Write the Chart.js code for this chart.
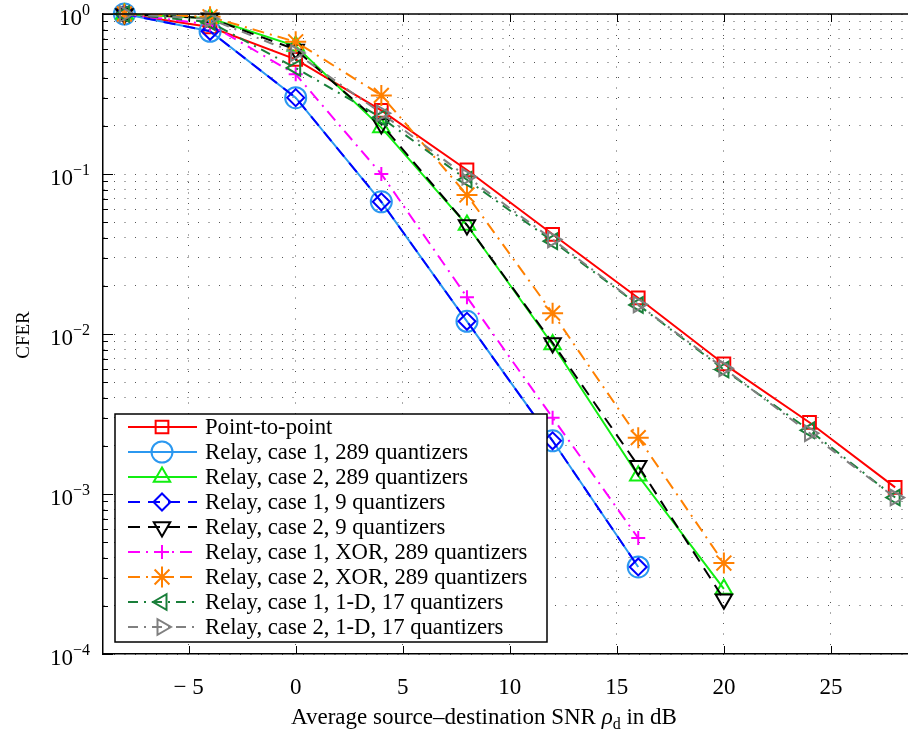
<!DOCTYPE html>
<html>
<head>
<meta charset="utf-8">
<script src="https://cdn.jsdelivr.net/npm/chart.js@4.4.1/dist/chart.umd.min.js"></script>
<style>
  html, body { margin: 0; padding: 0; background: #fff; }
</style>
</head>
<body>
<canvas id="cferChart" width="908" height="736"></canvas>
<script>
// SNR points (dB) and CFER values
const snrDb = [-8, -4, 0, 4, 8, 12, 16, 20, 24, 28];
const cferPointToPoint = [1.0, 0.83, 0.52, 0.25, 0.106, 0.042, 0.0168, 0.0065, 0.0028, 0.0011];
const cferCase1Q289 = [1.0, 0.78, 0.30, 0.067, 0.012, 0.00215, 0.00035];
const cferCase2Q289 = [1.0, 0.94, 0.63, 0.195, 0.048, 0.0086, 0.0013, 0.000255];
const cferCase1Q9 = [1.0, 0.78, 0.30, 0.067, 0.012, 0.00215, 0.00035];
const cferCase2Q9 = [1.0, 0.94, 0.60, 0.205, 0.048, 0.0088, 0.0015, 0.00022];
const cferCase1Xor = [1.0, 0.86, 0.42, 0.10, 0.017, 0.003, 0.00053];
const cferCase2Xor = [1.0, 0.96, 0.67, 0.31, 0.074, 0.0135, 0.00225, 0.00037];
const cferCase1OneD = [1.0, 0.89, 0.46, 0.225, 0.092, 0.038, 0.0152, 0.006, 0.0025, 0.00095];
const cferCase2OneD = [1.0, 0.93, 0.57, 0.24, 0.096, 0.039, 0.0153, 0.0061, 0.0024, 0.00095];

const seriesNames = [
  'Point-to-point',
  'Relay, case 1, 289 quantizers',
  'Relay, case 2, 289 quantizers',
  'Relay, case 1, 9 quantizers',
  'Relay, case 2, 9 quantizers',
  'Relay, case 1, XOR, 289 quantizers',
  'Relay, case 2, XOR, 289 quantizers',
  'Relay, case 1, 1-D, 17 quantizers',
  'Relay, case 2, 1-D, 17 quantizers'
];

const xTickValues = [-5, 0, 5, 10, 15, 20, 25];
const xTickLabels = ['\u2212 5', '0', '5', '10', '15', '20', '25'];
const yDecades = [1, 1e-1, 1e-2, 1e-3, 1e-4];
const yExpLabels = ['0', '\u22121', '\u22122', '\u22123', '\u22124'];
const yMantissas = [1, 2, 3, 4, 5, 6, 7, 8, 9];

const FONT = '"Liberation Serif", "DejaVu Serif", serif';

// minor grid values 1..9 x 10^k
const yGridValues = [];
yDecades.slice(1).forEach(d => yMantissas.forEach(m => yGridValues.push(d * m)));
yGridValues.push(1);

function series(label, values, style) {
  return Object.assign({
    label: label,
    data: values.map((v, i) => ({ x: snrDb[i], y: v })),
    fill: false,
    tension: 0,
    clip: false,
    borderWidth: 2,
    pointBorderWidth: 2,
    pointBackgroundColor: 'rgba(0,0,0,0)'
  }, style);
}

const datasets = [
  series(seriesNames[0], cferPointToPoint, { borderColor: '#ff0000', pointBorderColor: '#ff0000', pointStyle: 'rect', pointRadius: 9 }),
  series(seriesNames[1], cferCase1Q289, { borderColor: '#2b98f0', pointBorderColor: '#2b98f0', pointStyle: 'circle', pointRadius: 10.5 }),
  series(seriesNames[2], cferCase2Q289, { borderColor: '#11ee11', pointBorderColor: '#11ee11', pointStyle: 'triangle', pointRadius: 9.5 }),
  series(seriesNames[3], cferCase1Q9, { borderColor: '#0000ff', pointBorderColor: '#0000ff', borderDash: [12, 8], pointStyle: 'rectRot', pointRadius: 8.5 }),
  series(seriesNames[4], cferCase2Q9, { borderColor: '#000000', pointBorderColor: '#000000', borderDash: [12, 8], pointStyle: 'triangle', pointRotation: 180, pointRadius: 9.5 }),
  series(seriesNames[5], cferCase1Xor, { borderColor: '#ff00ff', pointBorderColor: '#ff00ff', borderDash: [12, 6, 2, 6], pointStyle: 'cross', pointRadius: 7 }),
  series(seriesNames[6], cferCase2Xor, { borderColor: '#ff8000', pointBorderColor: '#ff8000', borderDash: [12, 6, 2, 6], pointStyle: 'star', pointRadius: 10.5 }),
  series(seriesNames[7], cferCase1OneD, { borderColor: '#1a7f3a', pointBorderColor: '#1a7f3a', borderDash: [10, 6, 2, 6], pointStyle: 'triangle', pointRotation: 270, pointRadius: 9 }),
  series(seriesNames[8], cferCase2OneD, { borderColor: '#808080', pointBorderColor: '#808080', borderDash: [10, 6, 2, 6], pointStyle: 'triangle', pointRotation: 90, pointRadius: 9 })
];
// later series drawn on top
datasets.forEach((ds, i) => { ds.order = -i; });

function strokeLine(ctx, x1, y1, x2, y2) {
  ctx.beginPath();
  ctx.moveTo(x1, y1);
  ctx.lineTo(x2, y2);
  ctx.stroke();
}

const paperFrame = {
  id: 'paperFrame',
  afterDraw(chart) {
    const { ctx, chartArea: a } = chart;
    const xs = chart.scales.x, ys = chart.scales.y;
    ctx.save();

    // top border of the box
    ctx.strokeStyle = '#000';
    ctx.lineWidth = 1.5;
    strokeLine(ctx, a.left, a.top, a.right, a.top);

    // inward tick marks
    ctx.lineWidth = 1;
    xTickValues.forEach(v => {
      const px = Math.round(xs.getPixelForValue(v)) + 0.5;
      strokeLine(ctx, px, a.bottom, px, a.bottom - 8);
      strokeLine(ctx, px, a.top, px, a.top + 8);
    });
    yGridValues.forEach(v => {
      const py = Math.round(ys.getPixelForValue(v)) + 0.5;
      const lg = Math.log10(v);
      const major = Math.abs(lg - Math.round(lg)) < 1e-9;
      strokeLine(ctx, a.left, py, a.left + (major ? 10 : 5), py);
    });

    // x tick labels
    ctx.fillStyle = '#000';
    ctx.font = '23px ' + FONT;
    ctx.textAlign = 'center';
    ctx.textBaseline = 'middle';
    xTickValues.forEach((v, i) => {
      ctx.fillText(xTickLabels[i], xs.getPixelForValue(v), a.bottom + 34);
    });

    // y tick labels 10^k
    ctx.textAlign = 'right';
    ctx.textBaseline = 'alphabetic';
    yDecades.forEach((d, i) => {
      const py = ys.getPixelForValue(d);
      ctx.font = '16px ' + FONT;
      ctx.fillText(yExpLabels[i], 90, py + 1);
      const w = ctx.measureText(yExpLabels[i]).width;
      ctx.font = '23px ' + FONT;
      ctx.fillText('10', 90 - w, py + 11);
    });

    // y title
    ctx.save();
    ctx.translate(24, 335);
    ctx.rotate(-Math.PI / 2);
    ctx.textAlign = 'center';
    ctx.textBaseline = 'middle';
    ctx.font = '19px ' + FONT;
    ctx.fillText('CFER', 0, 0);
    ctx.restore();

    // x title with subscript
    const p1 = 'Average source\u2013destination SNR ';
    const p3 = ' in dB';
    ctx.textAlign = 'left';
    ctx.font = '23px ' + FONT;
    const w1 = ctx.measureText(p1).width;
    const w3 = ctx.measureText(p3).width;
    ctx.font = 'italic 23px ' + FONT;
    const wr = ctx.measureText('\u03c1').width;
    ctx.font = '16px ' + FONT;
    const ws = ctx.measureText('d').width;
    let tx = 484 - (w1 + wr + ws + w3) / 2;
    const ty = 724;
    ctx.font = '23px ' + FONT;
    ctx.fillText(p1, tx, ty); tx += w1;
    ctx.font = 'italic 23px ' + FONT;
    ctx.fillText('\u03c1', tx, ty); tx += wr;
    ctx.font = '16px ' + FONT;
    ctx.fillText('d', tx, ty + 5); tx += ws;
    ctx.font = '23px ' + FONT;
    ctx.fillText(p3, tx, ty);

    // legend box
    const box = { left: 115, top: 414, right: 547, bottom: 642 };
    ctx.fillStyle = '#fff';
    ctx.fillRect(box.left, box.top, box.right - box.left, box.bottom - box.top);
    ctx.strokeStyle = '#000';
    ctx.lineWidth = 1.5;
    ctx.strokeRect(box.left, box.top, box.right - box.left, box.bottom - box.top);

    chart.data.datasets.forEach((ds, i) => {
      const ry = 427 + i * 25;
      ctx.strokeStyle = ds.borderColor;
      ctx.lineWidth = ds.borderWidth;
      ctx.setLineDash(ds.borderDash || []);
      strokeLine(ctx, 128, ry, 197, ry);
      ctx.setLineDash([]);
      ctx.fillStyle = 'rgba(0,0,0,0)';
      Chart.helpers.drawPoint(ctx, {
        pointStyle: ds.pointStyle,
        radius: ds.pointRadius,
        rotation: ds.pointRotation || 0,
        borderWidth: ds.pointBorderWidth
      }, 162, ry);
      ctx.fillStyle = '#000';
      ctx.font = '22.7px ' + FONT;
      ctx.textAlign = 'left';
      ctx.textBaseline = 'middle';
      ctx.fillText(seriesNames[i], 205, ry + 1);
    });

    ctx.restore();
  }
};

const dotGrid = { color: '#555', lineWidth: 1, drawTicks: false };

new Chart(document.getElementById('cferChart'), {
  type: 'line',
  data: { datasets: datasets },
  options: {
    responsive: false,
    animation: false,
    layout: { autoPadding: false, padding: { left: 103, top: 14, right: 0, bottom: 82 } },
    plugins: {
      legend: { display: false },
      tooltip: { enabled: false }
    },
    scales: {
      x: {
        type: 'linear',
        min: -9,
        max: 28.6,
        afterBuildTicks: scale => { scale.ticks = xTickValues.map(v => ({ value: v })); },
        ticks: { display: false },
        grid: dotGrid,
        border: { color: '#000', width: 1.5, dash: [1, 9.5] }
      },
      y: {
        type: 'logarithmic',
        min: 1e-4,
        max: 1,
        afterBuildTicks: scale => { scale.ticks = yGridValues.map(v => ({ value: v })); },
        ticks: { display: false },
        grid: dotGrid,
        border: { color: '#000', width: 1.5, dash: [1, 9.5] }
      }
    }
  },
  plugins: [paperFrame]
});
</script>
</body>
</html>
